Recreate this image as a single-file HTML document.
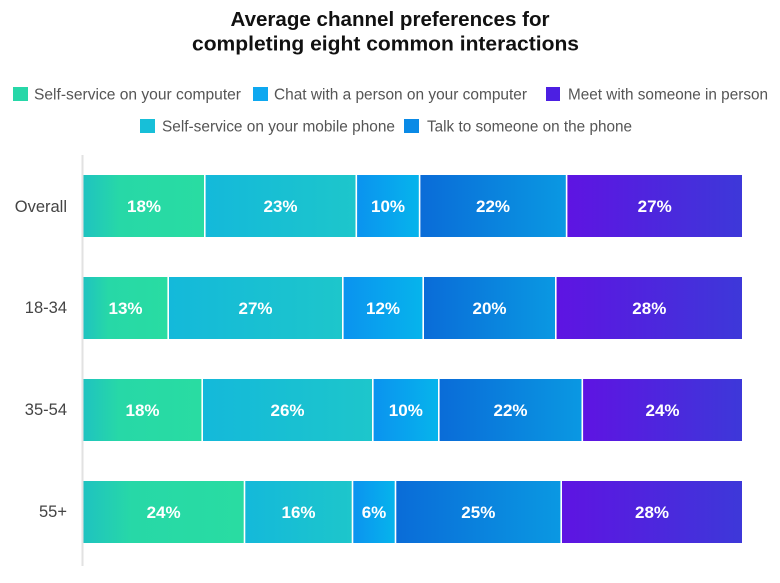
<!DOCTYPE html>
<html><head><meta charset="utf-8"><style>
html,body{margin:0;padding:0;background:#fff;}
svg{display:block;}
text{font-family:"Liberation Sans",Arial,sans-serif;}
</style></head><body>
<svg width="780" height="583" viewBox="0 0 780 583" xmlns="http://www.w3.org/2000/svg">
<defs>
<linearGradient id="g1" x1="0" y1="0" x2="1" y2="0"><stop offset="0" stop-color="#1fc3c0"/><stop offset="0.3" stop-color="#27d8a7"/><stop offset="1" stop-color="#29dca2"/></linearGradient>
<linearGradient id="g2" x1="0" y1="0" x2="1" y2="0"><stop offset="0" stop-color="#14b9da"/><stop offset="1" stop-color="#1dc6cb"/></linearGradient>
<linearGradient id="g3" x1="0" y1="0" x2="1" y2="0"><stop offset="0" stop-color="#0b93ef"/><stop offset="1" stop-color="#06b4ec"/></linearGradient>
<linearGradient id="g4" x1="0" y1="0" x2="1" y2="0"><stop offset="0" stop-color="#0a6cd8"/><stop offset="1" stop-color="#0a98e2"/></linearGradient>
<linearGradient id="g5" x1="0" y1="0" x2="1" y2="0"><stop offset="0" stop-color="#5e14e2"/><stop offset="1" stop-color="#3d38d9"/></linearGradient>
</defs>

<!-- Title -->
<text x="390" y="26" text-anchor="middle" font-size="20" font-weight="bold" fill="#111" textLength="319" lengthAdjust="spacingAndGlyphs">Average channel preferences for</text>
<text x="385.5" y="50.5" text-anchor="middle" font-size="20" font-weight="bold" fill="#111" textLength="387" lengthAdjust="spacingAndGlyphs">completing eight common interactions</text>

<!-- Legend -->
<rect x="13" y="87" width="15" height="14" fill="#27d7a8"/>
<text x="34" y="99.5" font-size="15.5" fill="#555" textLength="207" lengthAdjust="spacingAndGlyphs">Self-service on your computer</text>
<rect x="253" y="87" width="15" height="14" fill="#0ea8f0"/>
<text x="274" y="99.5" font-size="15.5" fill="#555" textLength="253" lengthAdjust="spacingAndGlyphs">Chat with a person on your computer</text>
<rect x="546" y="87" width="14" height="14" fill="#4c1fe2"/>
<text x="568" y="99.5" font-size="15.5" fill="#555" textLength="200" lengthAdjust="spacingAndGlyphs">Meet with someone in person</text>
<rect x="140" y="119" width="15" height="14" fill="#17bfd8"/>
<text x="162" y="131.5" font-size="15.5" fill="#555" textLength="233" lengthAdjust="spacingAndGlyphs">Self-service on your mobile phone</text>
<rect x="404" y="119" width="15" height="14" fill="#0a8ae6"/>
<text x="427" y="131.5" font-size="15.5" fill="#555" textLength="205" lengthAdjust="spacingAndGlyphs">Talk to someone on the phone</text>

<!-- Axis -->
<rect x="81.5" y="155" width="2" height="411" fill="#e2e2e2"/>

<!-- Row labels -->
<g font-size="16.5" fill="#444" text-anchor="end">
<text x="67" y="212">Overall</text>
<text x="67" y="313">18-34</text>
<text x="67" y="415">35-54</text>
<text x="67" y="517">55+</text>
</g>

<!-- Row 1 -->
<rect x="83.5" y="175" width="120.5" height="62" fill="url(#g1)"/>
<rect x="205.6" y="175" width="149.9" height="62" fill="url(#g2)"/>
<rect x="357.1" y="175" width="61.7" height="62" fill="url(#g3)"/>
<rect x="420.4" y="175" width="145.4" height="62" fill="url(#g4)"/>
<rect x="567.4" y="175" width="174.6" height="62" fill="url(#g5)"/>
<!-- Row 2 -->
<rect x="83.5" y="277" width="83.9" height="62" fill="url(#g1)"/>
<rect x="169" y="277" width="173" height="62" fill="url(#g2)"/>
<rect x="343.6" y="277" width="78.8" height="62" fill="url(#g3)"/>
<rect x="424" y="277" width="131" height="62" fill="url(#g4)"/>
<rect x="556.6" y="277" width="185.4" height="62" fill="url(#g5)"/>
<!-- Row 3 -->
<rect x="83.5" y="379" width="117.9" height="62" fill="url(#g1)"/>
<rect x="203" y="379" width="169" height="62" fill="url(#g2)"/>
<rect x="373.6" y="379" width="64.4" height="62" fill="url(#g3)"/>
<rect x="439.6" y="379" width="141.9" height="62" fill="url(#g4)"/>
<rect x="583.1" y="379" width="158.9" height="62" fill="url(#g5)"/>
<!-- Row 4 -->
<rect x="83.5" y="481" width="160.2" height="62" fill="url(#g1)"/>
<rect x="245.3" y="481" width="106.4" height="62" fill="url(#g2)"/>
<rect x="353.3" y="481" width="41.4" height="62" fill="url(#g3)"/>
<rect x="396.3" y="481" width="164.1" height="62" fill="url(#g4)"/>
<rect x="562" y="481" width="180" height="62" fill="url(#g5)"/>

<!-- Value labels -->
<g font-size="17" font-weight="bold" fill="#fff" text-anchor="middle">
<text x="144" y="212">18%</text>
<text x="280.5" y="212">23%</text>
<text x="388" y="212">10%</text>
<text x="493" y="212">22%</text>
<text x="654.7" y="212">27%</text>

<text x="125.5" y="314">13%</text>
<text x="255.5" y="314">27%</text>
<text x="383" y="314">12%</text>
<text x="489.5" y="314">20%</text>
<text x="649.3" y="314">28%</text>

<text x="142.5" y="416">18%</text>
<text x="287.5" y="416">26%</text>
<text x="405.8" y="416">10%</text>
<text x="510.5" y="416">22%</text>
<text x="662.5" y="416">24%</text>

<text x="163.6" y="518">24%</text>
<text x="298.5" y="518">16%</text>
<text x="374" y="518">6%</text>
<text x="478.3" y="518">25%</text>
<text x="652" y="518">28%</text>
</g>
</svg>
</body></html>
